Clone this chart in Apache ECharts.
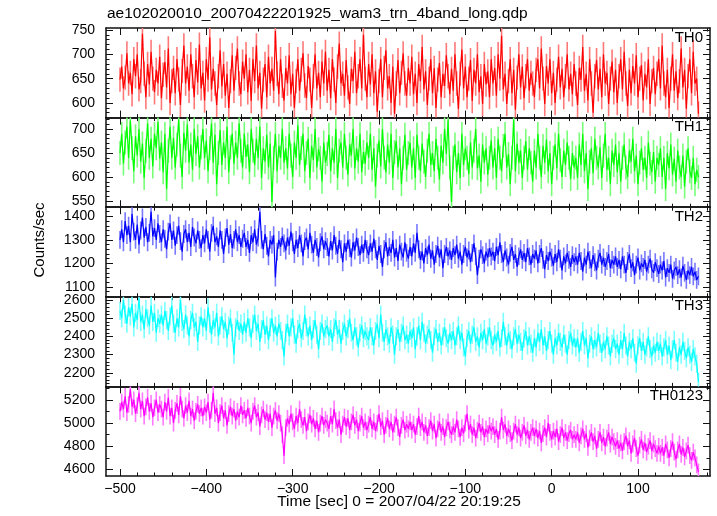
<!DOCTYPE html>
<html><head><meta charset="utf-8">
<script src="https://cdn.jsdelivr.net/npm/echarts@6/dist/echarts.min.js"></script>
<style>html,body{margin:0;padding:0;background:#fff}#c{width:717px;height:516px}</style>
</head><body><div id="c"></div>
<script>
const titleText = "ae102020010_20070422201925_wam3_trn_4band_long.qdp";
const xTitle = "Time [sec] 0 = 2007/04/22 20:19:25";
const yTitle = "Counts/sec";
const bandNames = ["TH0", "TH1", "TH2", "TH3", "TH0123"];
const bandColors = ["#ff0000", "#00ff00", "#0000ff", "#00ffff", "#ff00ff"];
const bandErrColors = ["#ff7878", "#78ff78", "#7878ff", "#78ffff", "#ff78ff"];
const timeStart = -500, timeStep = 2;
const xRange = [-516.2, 183.4];
const xMajorTicks = [-500, -400, -300, -200, -100, 0, 100];
const xMinorTicks = [-480, -460, -440, -420, -380, -360, -340, -320, -280, -260, -240, -220, -180, -160, -140, -120, -80, -60, -40, -20, 20, 40, 60, 80, 120, 140, 160, 180];
// typical 1-sigma error bar of each band (counts/sec)
const bandErrors = [25, 25, 38, 50, 72];

const th0 = [
648, 675, 630, 652, 702, 640, 662, 618, 690, 655, 700, 628, 645, 742, 660, 612, 680, 638, 705, 650, 622, 668, 640, 695,
610, 658, 684, 632, 712, 600, 645, 672, 620, 690, 648, 596, 666, 718, 640, 675, 625, 700, 655, 612, 688, 642, 720, 630,
662, 605, 690, 648, 735, 628, 670, 640, 596, 655, 708, 634, 680, 615, 660, 590, 645, 698, 625, 672, 712, 640, 618, 685,
650, 700, 622, 668, 604, 690, 645, 718, 630, 662, 588, 648, 680, 612, 695, 640, 670, 625, 748, 660, 618, 690, 635, 605,
672, 640, 698, 618, 660, 590, 645, 690, 625, 668, 702, 636, 610, 676, 648, 590, 655, 700, 630, 662, 612, 685, 640, 705,
625, 668, 610, 690, 648, 600, 675, 722, 640, 660, 615, 688, 632, 598, 670, 645, 705, 620, 655, 690, 630, 740, 650, 612,
680, 638, 700, 620, 665, 582, 645, 690, 612, 672, 708, 630, 655, 600, 675, 578, 640, 688, 620, 662, 702, 640, 615, 672,
640, 695, 618, 660, 600, 680, 645, 715, 628, 665, 596, 650, 690, 620, 672, 590, 648, 682, 612, 660, 635, 698, 655, 618,
670, 625, 700, 640, 588, 660, 710, 630, 675, 612, 650, 688, 604, 668, 640, 700, 622, 655, 598, 680, 638, 665, 612, 690,
640, 672, 615, 700, 650, 738, 628, 660, 598, 645, 690, 620, 668, 586, 652, 700, 632, 675, 610, 655, 690, 625, 662, 640,
612, 668, 690, 630, 712, 650, 598, 676, 640, 690, 620, 662, 600, 648, 695, 632, 670, 612, 655, 700, 628, 660, 618, 680,
640, 596, 672, 648, 715, 625, 660, 605, 690, 640, 580, 655, 688, 628, 670, 612, 700, 640, 662, 598, 650, 685, 622, 668,
600, 655, 690, 628, 705, 640, 594, 668, 620, 676, 640, 698, 612, 650, 678, 605, 660, 632, 690, 598, 645, 672, 618, 660,
690, 630, 718, 640, 612, 668, 590, 650, 700, 625, 665, 610, 645, 712, 632, 668, 588, 655, 690, 620, 705, 640, 650, 578];

const th1 = [
650, 690, 628, 672, 705, 640, 718, 660, 612, 685, 645, 700, 632, 670, 598, 655, 712, 640, 680, 622, 690, 660, 715, 638,
672, 610, 690, 575, 655, 705, 640, 682, 620, 668, 720, 645, 600, 692, 655, 710, 630, 668, 615, 700, 648, 685, 620, 662,
700, 640, 676, 612, 660, 712, 630, 688, 585, 650, 698, 625, 672, 640, 705, 610, 662, 690, 628, 672, 640, 712, 655, 620,
690, 642, 668, 610, 700, 655, 625, 680, 640, 705, 598, 660, 632, 688, 620, 670, 548, 640, 690, 612, 665, 640, 700, 630,
660, 618, 690, 645, 600, 672, 640, 708, 625, 660, 690, 612, 650, 680, 598, 665, 635, 700, 620, 658, 640, 590, 672, 630,
648, 688, 612, 660, 630, 700, 598, 655, 672, 620, 690, 640, 605, 668, 645, 700, 618, 660, 632, 690, 610, 652, 628, 672,
640, 690, 615, 660, 580, 645, 676, 622, 700, 640, 610, 668, 630, 690, 598, 652, 675, 620, 660, 585, 640, 688, 615, 650,
672, 620, 660, 598, 688, 640, 612, 670, 632, 600, 655, 690, 625, 650, 612, 680, 640, 595, 665, 630, 700, 648, 718, 620,
548, 640, 668, 610, 650, 598, 690, 625, 660, 640, 606, 672, 620, 655, 700, 618, 645, 590, 668, 630, 660, 605, 640, 676,
620, 660, 598, 680, 640, 612, 665, 690, 620, 648, 585, 640, 720, 612, 670, 630, 655, 598, 640, 675, 615, 660, 630, 590,
655, 620, 690, 640, 600, 665, 630, 678, 612, 650, 585, 640, 668, 618, 690, 635, 600, 655, 625, 672, 640, 596, 650, 620,
640, 598, 668, 625, 690, 612, 650, 575, 632, 660, 608, 680, 640, 620, 662, 598, 645, 690, 615, 640, 585, 655, 625, 668,
610, 650, 590, 640, 668, 620, 600, 655, 632, 680, 612, 645, 585, 630, 660, 615, 640, 598, 672, 628, 610, 652, 590, 640,
625, 660, 600, 640, 575, 650, 618, 668, 605, 638, 590, 655, 620, 600, 645, 580, 632, 660, 612, 598, 640, 585, 615, 600];

const th2 = [
1300, 1345, 1290, 1380, 1320, 1360, 1290, 1410, 1335, 1300, 1365, 1280, 1340, 1395, 1310, 1355, 1290, 1330, 1420, 1315, 1350, 1300, 1370, 1325,
1290, 1345, 1305, 1260, 1335, 1370, 1300, 1340, 1275, 1320, 1360, 1295, 1250, 1325, 1345, 1290, 1330, 1270, 1355, 1310, 1285, 1340, 1300, 1265,
1320, 1285, 1345, 1300, 1250, 1330, 1360, 1290, 1315, 1270, 1340, 1300, 1240, 1310, 1350, 1280, 1325, 1265, 1300, 1345, 1290, 1320, 1270, 1305,
1330, 1270, 1300, 1245, 1320, 1290, 1345, 1280, 1310, 1420, 1300, 1260, 1325, 1275, 1230, 1300, 1280, 1320, 1140, 1250, 1300, 1270, 1315, 1285,
1255, 1310, 1275, 1335, 1290, 1240, 1300, 1265, 1320, 1285, 1230, 1295, 1310, 1260, 1330, 1280, 1245, 1300, 1270, 1225, 1290, 1315, 1260, 1295,
1270, 1230, 1295, 1255, 1320, 1275, 1240, 1300, 1260, 1205, 1285, 1250, 1300, 1265, 1225, 1290, 1255, 1310, 1270, 1235, 1280, 1245, 1300, 1260,
1235, 1285, 1250, 1305, 1260, 1215, 1275, 1240, 1185, 1260, 1290, 1230, 1270, 1245, 1300, 1225, 1265, 1210, 1280, 1250, 1225, 1290, 1245, 1220,
1270, 1230, 1285, 1245, 1330, 1260, 1215, 1250, 1200, 1265, 1235, 1280, 1220, 1255, 1195, 1240, 1275, 1225, 1260, 1180, 1240, 1270, 1230, 1255,
1215, 1265, 1235, 1280, 1220, 1250, 1195, 1240, 1270, 1225, 1255, 1205, 1245, 1285, 1230, 1150, 1220, 1260, 1235, 1200, 1250, 1225, 1265, 1230,
1250, 1210, 1270, 1235, 1290, 1240, 1205, 1255, 1225, 1195, 1245, 1270, 1215, 1240, 1185, 1230, 1260, 1215, 1245, 1205, 1265, 1230, 1195, 1240,
1220, 1255, 1200, 1240, 1265, 1215, 1175, 1235, 1210, 1250, 1225, 1190, 1240, 1205, 1260, 1220, 1170, 1230, 1200, 1245, 1215, 1185, 1235, 1205,
1230, 1195, 1245, 1210, 1165, 1225, 1195, 1250, 1215, 1180, 1235, 1205, 1170, 1220, 1245, 1195, 1225, 1185, 1210, 1240, 1180, 1215, 1195, 1230,
1185, 1215, 1175, 1230, 1195, 1160, 1210, 1240, 1180, 1205, 1150, 1195, 1225, 1170, 1200, 1185, 1215, 1165, 1195, 1220, 1175, 1160, 1205, 1180,
1155, 1195, 1170, 1210, 1140, 1180, 1160, 1195, 1135, 1170, 1185, 1150, 1175, 1140, 1190, 1160, 1130, 1170, 1150, 1185, 1145, 1165, 1130, 1145];

const th3 = [
2540, 2500, 2600, 2520, 2470, 2560, 2510, 2580, 2450, 2530, 2490, 2610, 2480, 2520, 2440, 2550, 2500, 2460, 2570, 2480, 2530, 2420, 2500, 2470,
2520, 2460, 2540, 2490, 2430, 2510, 2570, 2470, 2420, 2500, 2450, 2600, 2480, 2440, 2520, 2460, 2400, 2490, 2530, 2450, 2480, 2370, 2460, 2510,
2450, 2500, 2430, 2560, 2470, 2410, 2490, 2450, 2530, 2400, 2460, 2510, 2440, 2480, 2390, 2460, 2500, 2420, 2300, 2450, 2490, 2430, 2470, 2410,
2480, 2420, 2500, 2450, 2390, 2470, 2520, 2430, 2470, 2370, 2440, 2490, 2410, 2460, 2380, 2450, 2500, 2420, 2460, 2400, 2470, 2430, 2380, 2290,
2420, 2470, 2400, 2450, 2500, 2410, 2360, 2440, 2470, 2390, 2430, 2520, 2450, 2400, 2460, 2380, 2440, 2490, 2410, 2330, 2430, 2470, 2400, 2440,
2460, 2400, 2440, 2370, 2450, 2490, 2410, 2440, 2360, 2430, 2470, 2400, 2440, 2500, 2420, 2380, 2450, 2400, 2340, 2420, 2460, 2390, 2430, 2400,
2380, 2450, 2400, 2350, 2430, 2470, 2390, 2520, 2420, 2370, 2440, 2400, 2360, 2450, 2410, 2300, 2400, 2440, 2370, 2420, 2460, 2380, 2410, 2360,
2430, 2390, 2450, 2330, 2400, 2460, 2380, 2480, 2420, 2360, 2410, 2440, 2380, 2310, 2400, 2440, 2370, 2420, 2350, 2400, 2450, 2390, 2360, 2420,
2380, 2430, 2350, 2400, 2460, 2380, 2420, 2340, 2290, 2390, 2430, 2360, 2410, 2450, 2370, 2400, 2340, 2420, 2380, 2440, 2360, 2400, 2450, 2380,
2350, 2410, 2370, 2430, 2340, 2390, 2480, 2400, 2350, 2420, 2380, 2330, 2400, 2440, 2360, 2410, 2370, 2320, 2390, 2430, 2350, 2400, 2360, 2310,
2390, 2340, 2420, 2370, 2440, 2350, 2400, 2320, 2380, 2430, 2360, 2300, 2390, 2350, 2420, 2370, 2340, 2410, 2360, 2300, 2380, 2420, 2350, 2390,
2340, 2390, 2310, 2370, 2430, 2350, 2390, 2280, 2360, 2400, 2330, 2380, 2340, 2420, 2360, 2310, 2370, 2330, 2400, 2350, 2290, 2360, 2390, 2330,
2360, 2300, 2380, 2330, 2420, 2350, 2290, 2370, 2330, 2390, 2310, 2250, 2350, 2390, 2320, 2370, 2300, 2340, 2400, 2330, 2290, 2350, 2310, 2370,
2320, 2360, 2290, 2340, 2380, 2300, 2350, 2270, 2330, 2380, 2310, 2260, 2340, 2300, 2370, 2320, 2280, 2340, 2300, 2260, 2330, 2290, 2250, 2150];

const th0123 = [
5100, 5180, 5120, 5230, 5090, 5160, 5290, 5140, 5200, 5080, 5150, 5260, 5120, 5190, 5060, 5140, 5220, 5100, 5170, 5050, 5130, 5200, 5090, 5160,
5120, 5050, 5180, 5100, 5220, 5060, 5130, 5000, 5110, 5170, 5070, 5230, 5120, 5040, 5150, 5090, 5190, 5060, 5120, 5020, 5100, 5160, 5080, 5130,
5060, 5140, 5090, 5180, 5030, 5110, 5260, 5080, 5130, 5000, 5090, 5150, 5040, 5110, 4980, 5080, 5140, 5060, 5120, 5020, 5100, 5050, 5150, 5070,
5110, 5040, 5130, 5060, 5000, 5100, 5150, 5050, 5090, 4970, 5070, 5120, 5030, 5090, 5010, 5080, 4960, 5060, 5110, 5020, 5080, 5000, 4900, 4720,
4960, 5040, 4990, 5080, 5010, 4950, 5060, 5000, 5120, 5030, 4980, 5050, 4930, 5010, 5070, 4990, 5040, 4950, 5020, 4920, 5000, 5060, 4980, 5030,
5000, 4950, 5060, 4990, 5120, 5020, 4960, 5030, 4900, 4990, 5050, 4970, 5040, 4940, 5010, 5070, 4980, 5030, 4930, 5000, 5060, 4960, 5010, 4940,
4990, 5050, 4950, 5010, 4930, 5000, 5080, 4970, 5020, 4900, 4980, 5040, 4950, 5010, 4920, 4990, 5050, 4960, 4880, 4980, 5030, 4940, 4990, 4950,
5010, 4940, 4990, 4900, 4970, 5060, 4960, 5010, 4920, 4980, 4890, 4960, 5020, 4930, 4990, 4870, 4950, 5010, 4920, 4970, 4880, 4960, 5010, 4940,
4900, 4970, 4920, 5030, 4950, 4880, 4960, 4910, 5000, 5080, 4940, 4990, 4900, 4960, 4870, 4940, 5000, 4920, 4970, 4880, 4950, 4910, 4980, 4930,
4970, 4900, 4950, 4860, 4930, 5050, 4940, 4990, 4890, 4950, 4910, 4850, 4930, 4990, 4900, 4960, 4870, 4920, 4980, 4890, 4940, 4860, 4920, 4960,
4890, 4950, 4870, 4930, 4830, 4910, 4960, 4880, 5000, 4920, 4860, 4930, 4880, 4950, 4840, 4900, 4960, 4870, 4920, 4850, 4910, 4940, 4860, 4900,
4860, 4920, 4830, 4890, 4950, 4860, 4910, 4790, 4870, 4920, 4840, 4890, 4780, 4860, 4920, 4830, 4880, 4800, 4870, 4920, 4820, 4880, 4840, 4800,
4850, 4780, 4830, 4760, 4840, 4890, 4800, 4850, 4740, 4820, 4870, 4780, 4720, 4810, 4860, 4770, 4830, 4750, 4800, 4850, 4760, 4820, 4780, 4740,
4800, 4740, 4790, 4720, 4820, 4770, 4700, 4780, 4840, 4750, 4690, 4770, 4820, 4730, 4790, 4710, 4760, 4810, 4720, 4680, 4750, 4700, 4640, 4580];

const bandValues = [th0, th1, th2, th3, th0123];
const yRanges = [[570, 754], [537, 724], [1058, 1439], [2125, 2618], [4545, 5315]];
const yMajorTicks = [
  [600, 650, 700, 750],
  [550, 600, 650, 700],
  [1100, 1200, 1300, 1400],
  [2200, 2300, 2400, 2500, 2600],
  [4600, 4800, 5000, 5200]];
const yMinorTicks = [
  [580, 590, 610, 620, 630, 640, 660, 670, 680, 690, 710, 720, 730, 740],
  [540, 560, 570, 580, 590, 610, 620, 630, 640, 660, 670, 680, 690, 710, 720],
  [1060, 1080, 1120, 1140, 1160, 1180, 1220, 1240, 1260, 1280, 1320, 1340, 1360, 1380, 1420],
  [2140, 2160, 2180, 2220, 2240, 2260, 2280, 2320, 2340, 2360, 2380, 2420, 2440, 2460, 2480, 2520, 2540, 2560, 2580],
  [4700, 4900, 5100, 5300]];

// ---- layout ----
const W = 717, H = 516;
const plotLeft = 106, plotRight = 710, plotTop = 28, plotBottom = 476;
const nP = 5, ph = (plotBottom - plotTop) / nP;
const FONT = '"Liberation Sans", Arial, Helvetica, sans-serif';
const axisLineStyle = { color: '#111', width: 1.5 };
const tickStyle = { color: '#111', width: 1 };
const minusFmt = v => (v < 0 ? '\u2212' + (-v) : String(v));
const plainFmt = v => String(v);

const grids = [], xAxes = [], yAxes = [], series = [], graphics = [];
for (let i = 0; i < nP; i++) {
  grids.push({ left: plotLeft, width: plotRight - plotLeft, top: plotTop + i * ph, height: ph, containLabel: false });
  const xBase = { type: 'value', gridIndex: i, min: xRange[0], max: xRange[1], splitLine: { show: false }, axisPointer: { show: false } };
  const isLast = i === nP - 1;
  const xMain = xAxes.length;
  xAxes.push(Object.assign({}, xBase, {
    position: 'bottom',
    axisLine: { show: true, onZero: false, lineStyle: axisLineStyle },
    axisTick: { show: true, inside: true, length: 7, customValues: xMajorTicks, lineStyle: tickStyle },
    axisLabel: { show: isLast, customValues: xMajorTicks, formatter: minusFmt, color: '#000', fontFamily: FONT, fontSize: 14, margin: 6 }
  }));
  xAxes.push(Object.assign({}, xBase, {
    position: 'bottom',
    axisLine: { show: false, onZero: false },
    axisTick: { show: true, inside: true, length: 3.5, customValues: xMinorTicks, lineStyle: tickStyle },
    axisLabel: { show: false, customValues: xMinorTicks }
  }));
  xAxes.push(Object.assign({}, xBase, {
    position: 'top',
    axisLine: { show: true, onZero: false, lineStyle: axisLineStyle },
    axisTick: { show: true, inside: true, length: 7, customValues: xMajorTicks, lineStyle: tickStyle },
    axisLabel: { show: false, customValues: xMajorTicks }
  }));
  xAxes.push(Object.assign({}, xBase, {
    position: 'top',
    axisLine: { show: false, onZero: false },
    axisTick: { show: true, inside: true, length: 3.5, customValues: xMinorTicks, lineStyle: tickStyle },
    axisLabel: { show: false, customValues: xMinorTicks }
  }));

  const yBase = { type: 'value', gridIndex: i, min: yRanges[i][0], max: yRanges[i][1], splitLine: { show: false }, axisPointer: { show: false } };
  const yMain = yAxes.length;
  yAxes.push(Object.assign({}, yBase, {
    position: 'left',
    axisLine: { show: true, onZero: false, lineStyle: axisLineStyle },
    axisTick: { show: true, inside: true, length: 7, customValues: yMajorTicks[i], lineStyle: tickStyle },
    axisLabel: { show: true, customValues: yMajorTicks[i], formatter: plainFmt, color: '#000', fontFamily: FONT, fontSize: 14, margin: 11 }
  }));
  yAxes.push(Object.assign({}, yBase, {
    position: 'left',
    axisLine: { show: false, onZero: false },
    axisTick: { show: true, inside: true, length: 3.5, customValues: yMinorTicks[i], lineStyle: tickStyle },
    axisLabel: { show: false, customValues: yMinorTicks[i] }
  }));
  yAxes.push(Object.assign({}, yBase, {
    position: 'right',
    axisLine: { show: true, onZero: false, lineStyle: axisLineStyle },
    axisTick: { show: true, inside: true, length: 7, customValues: yMajorTicks[i], lineStyle: tickStyle },
    axisLabel: { show: false, customValues: yMajorTicks[i] }
  }));
  yAxes.push(Object.assign({}, yBase, {
    position: 'right',
    axisLine: { show: false, onZero: false },
    axisTick: { show: true, inside: true, length: 3.5, customValues: yMinorTicks[i], lineStyle: tickStyle },
    axisLabel: { show: false, customValues: yMinorTicks[i] }
  }));

  const pts = bandValues[i].map((v, k) => [timeStart + k * timeStep, v]);
  const err = bandErrors[i], errColor = bandErrColors[i];
  // error bars (lighter colour), drawn through the axes' scales
  series.push({
    type: 'custom', xAxisIndex: xMain, yAxisIndex: yMain, data: pts, clip: true,
    animation: false, silent: true,
    renderItem: function (params, api) {
      const t = api.value(0), v = api.value(1);
      const p1 = api.coord([t, v - err]);
      const p2 = api.coord([t, v + err]);
      return { type: 'line', shape: { x1: p1[0], y1: p1[1], x2: p2[0], y2: p2[1] }, style: { stroke: errColor, lineWidth: 1.6 } };
    }
  });
  series.push({
    type: 'line', xAxisIndex: xMain, yAxisIndex: yMain, data: pts,
    showSymbol: false, symbol: 'none', clip: true,
    lineStyle: { color: bandColors[i], width: 1.2 }, itemStyle: { color: bandColors[i] },
    animation: false, silent: true
  });

  graphics.push({
    type: 'text', right: W - 703, top: plotTop + i * ph + 2, z: 100,
    style: { text: bandNames[i], fill: '#000', font: '15px ' + FONT, textAlign: 'right' }
  });
}

graphics.push({ type: 'text', left: 107, top: 6, style: { text: titleText, fill: '#000', font: '15.5px ' + FONT } });
graphics.push({ type: 'text', x: 399, y: 502, style: { text: xTitle, fill: '#000', font: '15.5px ' + FONT, textAlign: 'center', textVerticalAlign: 'middle' } });
graphics.push({ type: 'text', x: 40, y: 240, rotation: Math.PI / 2, style: { text: yTitle, fill: '#000', font: '15px ' + FONT, textAlign: 'center', textVerticalAlign: 'middle' } });

const chart = echarts.init(document.getElementById('c'), null, { renderer: 'canvas', width: W, height: H });
chart.setOption({
  backgroundColor: '#fff',
  animation: false,
  grid: grids, xAxis: xAxes, yAxis: yAxes, series: series, graphic: graphics
});
</script></body></html>
